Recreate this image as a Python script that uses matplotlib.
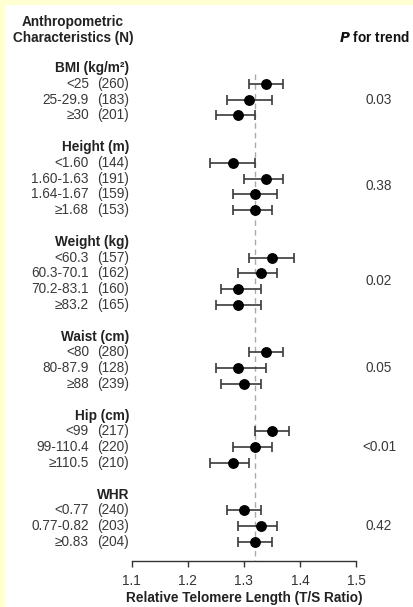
import matplotlib
matplotlib.use('Agg')
import matplotlib.pyplot as plt
from matplotlib.patches import Rectangle
from matplotlib.transforms import blended_transform_factory

plt.rcParams['font.family'] = ['Liberation Sans', 'DejaVu Sans']
plt.rcParams['mathtext.fontset'] = 'custom'
plt.rcParams['mathtext.rm'] = 'Liberation Sans'
plt.rcParams['mathtext.bf'] = 'Liberation Sans:bold'

# group headers, category labels, N, point estimates, CIs, P for trend
groups = ['BMI (kg/m²)', 'Height (m)', 'Weight (kg)',
          'Waist (cm)', 'Hip (cm)', 'WHR']
categories = [
    ['<25', '25-29.9', '≥30'],
    ['<1.60', '1.60-1.63', '1.64-1.67', '≥1.68'],
    ['<60.3', '60.3-70.1', '70.2-83.1', '≥83.2'],
    ['<80', '80-87.9', '≥88'],
    ['<99', '99-110.4', '≥110.5'],
    ['<0.77', '0.77-0.82', '≥0.83'],
]
counts = [
    [260, 183, 201],
    [144, 191, 159, 153],
    [157, 162, 160, 165],
    [280, 128, 239],
    [217, 220, 210],
    [240, 203, 204],
]
estimates = [
    [1.34, 1.31, 1.29],
    [1.28, 1.34, 1.32, 1.32],
    [1.35, 1.33, 1.29, 1.29],
    [1.34, 1.29, 1.30],
    [1.35, 1.32, 1.28],
    [1.30, 1.33, 1.32],
]
ci_low = [
    [1.31, 1.27, 1.25],
    [1.24, 1.30, 1.28, 1.28],
    [1.31, 1.29, 1.26, 1.25],
    [1.31, 1.25, 1.26],
    [1.32, 1.28, 1.24],
    [1.27, 1.29, 1.29],
]
ci_high = [
    [1.37, 1.35, 1.32],
    [1.32, 1.37, 1.36, 1.35],
    [1.39, 1.36, 1.33, 1.33],
    [1.37, 1.34, 1.33],
    [1.38, 1.35, 1.31],
    [1.33, 1.36, 1.35],
]
p_trend = ['0.03', '0.38', '0.02', '0.05', '<0.01', '0.42']
ref_value = 1.32
x_ticks = [1.1, 1.2, 1.3, 1.4, 1.5]

FS = 9.8
W, H = 414, 607
fig = plt.figure(figsize=(W / 100, H / 100), dpi=100)
fig.patch.set_facecolor('#FFFFD2')
fig.patches.append(Rectangle((5 / W, 0), 1, 1 - 5 / H, transform=fig.transFigure,
                             facecolor='white', edgecolor='none', zorder=-5))

row_px0, row_step = 68, 15.8
axis_px = 560.7
ax = fig.add_axes([131.7 / W, (H - axis_px) / H, (356 - 131.7) / W, axis_px / H])
ax.set_facecolor('none')
ax.set_zorder(2)
ax.set_xlim(1.1, 1.5)
ax.set_ylim((axis_px - row_px0) / row_step, -row_px0 / row_step)
for s in ['top', 'left', 'right']:
    ax.spines[s].set_visible(False)
ax.spines['bottom'].set_color('#333333')
ax.spines['bottom'].set_linewidth(1.0)
ax.set_yticks([])
ax.set_xticks(x_ticks)
ax.set_xticklabels([f'{t:.1f}' for t in x_ticks])
ax.tick_params(axis='x', length=4.5, width=1.0, color='#333333',
               labelsize=FS, labelcolor='#333333', pad=5)
ax.set_xlabel('Relative Telomere Length (T/S Ratio)', fontsize=FS,
              fontweight='bold', color='#222222', labelpad=2.5)

tr = blended_transform_factory(fig.transFigure, ax.transData)

line = 0
first_item = None
for g, name in enumerate(groups):
    ax.text(129 / W, line, name, transform=tr, ha='right', va='center',
            fontsize=FS, fontweight='bold', color='#222222')
    rows = []
    for k, cat in enumerate(categories[g]):
        line += 1
        rows.append(line)
        if first_item is None:
            first_item = line
        ax.text(89 / W, line, cat, transform=tr, ha='right', va='center',
                fontsize=FS, color='#3a3a3a')
        ax.text(129 / W, line, f'({counts[g][k]})', transform=tr, ha='right',
                va='center', fontsize=FS, color='#3a3a3a')
        est = estimates[g][k]
        ax.errorbar(est, line,
                    xerr=[[est - ci_low[g][k]], [ci_high[g][k] - est]],
                    fmt='o', color='black', markersize=6.8, ecolor='#3a3a3a',
                    elinewidth=1.2, capsize=3.4, capthick=1.2, zorder=3)
    ax.text(379 / W, sum(rows) / len(rows), p_trend[g], transform=tr,
            ha='center', va='center', fontsize=FS, color='#3a3a3a')
    line += 2

ax.plot([ref_value, ref_value], [first_item - 0.6, ax.get_ylim()[0]],
        color='#aaaaaa', linestyle=(0, (4, 3)), linewidth=1.0, zorder=1)

ax.text(73 / W, -2.91, 'Anthropometric', transform=tr, ha='center',
        va='center', fontsize=FS, fontweight='bold', color='#222222')
ax.text(73 / W, -1.90, 'Characteristics (N)', transform=tr, ha='center',
        va='center', fontsize=FS, fontweight='bold', color='#222222')
ax.text(374 / W, -1.90, r'$\mathbfit{P}$ for trend', transform=tr,
        ha='center', va='center', fontsize=FS, fontweight='bold',
        color='#111111')

fig.savefig('out.png', dpi=100, facecolor=fig.get_facecolor())
